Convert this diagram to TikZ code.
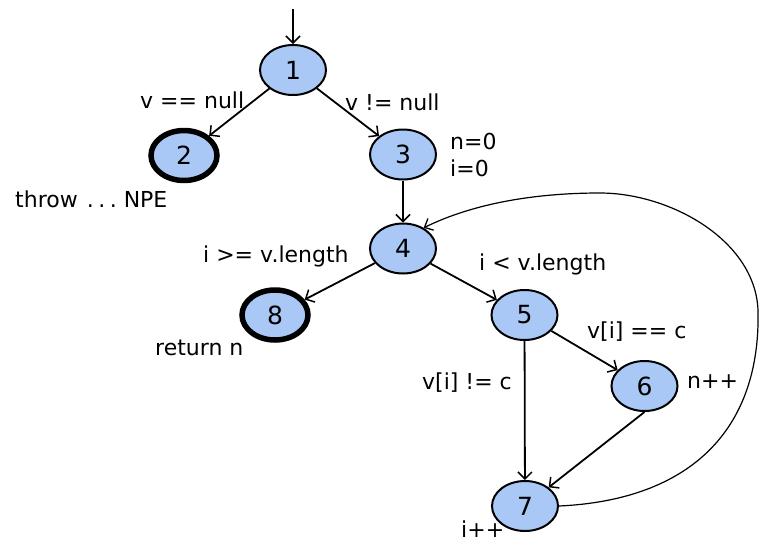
\documentclass[tikz,border=0pt]{standalone}
\usepackage{fontspec}
\setmainfont{DejaVu Sans}
\usetikzlibrary{shapes.geometric,arrows.meta}
\definecolor{nodefill}{RGB}{169,200,245}
\tikzset{
  state/.style={ellipse,draw=black,line width=2pt,fill=nodefill,minimum width=66pt,minimum height=50pt,inner sep=0pt,font=\fontsize{25}{29}\selectfont},
  final/.style={state,line width=5.5pt},
  lbl/.style={font=\fontsize{22}{26}\selectfont,inner sep=0pt},
  edge/.style={line width=1.8pt,-{Straight Barb[length=7pt,width=14pt,line width=1.5pt]}},
  loop/.style={line width=1.2pt,-{Straight Barb[length=7pt,width=13pt,line width=1.3pt]}}
}
\begin{document}
\begin{tikzpicture}[x=1pt,y=-1pt]
\useasboundingbox (0,0) rectangle (764,542);
\node[state] (n1) at (293,70) {1};
\node[final] (n2) at (184,155.5) {2};
\node[state] (n3) at (403,154.5) {3};
\node[state] (n4) at (403,248.5) {4};
\node[state] (n5) at (524.5,315) {5};
\node[state] (n6) at (644.5,386) {6};
\node[state] (n7) at (525,506) {7};
\node[final] (n8) at (275,315) {8};
\coordinate (start) at (293,9);
\coordinate (lp1) at (758,310);
\coordinate (lp2) at (600,193);

\draw[edge] (start) -- (n1);
\draw[edge] (n1) -- (n2);
\draw[edge] (n1) -- (n3);
\draw[edge] (n3) -- (n4);
\draw[edge] (n4) -- (n8);
\draw[edge] (n4) -- (n5);
\draw[edge] (n5) -- (n6);
\draw[edge] (n5) -- (n7);
\draw[edge] (n6.south) -- (n7);
\draw[loop] (n7.east) .. controls (690,500) and (761,430) .. (lp1)
  .. controls (755,240) and (670,193) .. (lp2)
  .. controls (530,193) and (470,205) .. (n4.45);

\node[lbl,anchor=base west] (l1) at (140,108) {v == null};
\node[lbl,anchor=base west] (l2) at (345,110) {v != null};
\node[lbl,anchor=base west] (l3) at (450,149) {n=0};
\node[lbl,anchor=base west] (l4) at (450,176) {i=0};
\node[lbl,anchor=base west] (l5) at (15,207) {throw\hspace{9pt}.\kern4.5pt.\kern4.5pt.\hspace{7pt}NPE};
\node[lbl,anchor=base west] (l6) at (203,262) {i >= v.length};
\node[lbl,anchor=base west] (l7) at (479,270) {i < v.length};
\node[lbl,anchor=base west] (l8) at (155,355) {return n};
\node[lbl,anchor=base west] (l9) at (587,338) {v[i] == c};
\node[lbl,anchor=base west] (l10) at (422,389) {v[i] != c};
\node[lbl,anchor=base west] (l11) at (687,388) {n++};
\node[lbl,anchor=base west] (l12) at (461,537) {i++};
\end{tikzpicture}
\end{document}
